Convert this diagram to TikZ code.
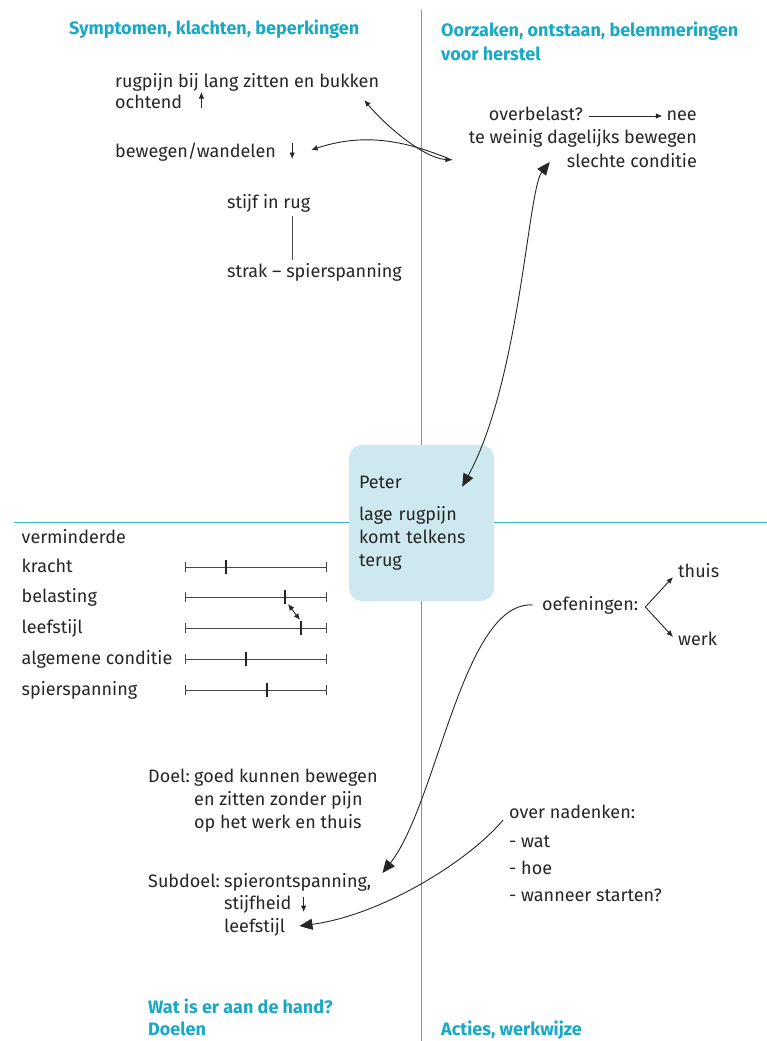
\documentclass[tikz,border=0pt]{standalone}
\usepackage{fontspec}
\setmainfont{Fira Sans}
\usetikzlibrary{arrows.meta}
\definecolor{kop}{HTML}{17A9C5}
\definecolor{lijn}{HTML}{3AAFC8}
\definecolor{vak}{HTML}{CDE9EF}
\definecolor{inkt}{HTML}{262626}
\begin{document}
\begin{tikzpicture}[x=1pt,y=-1pt,
    txt/.style={anchor=base west,inner sep=0pt,text=inkt,font=\fontsize{18}{23}\selectfont},
    txtr/.style={txt,anchor=base east},
    kopje/.style={txt,text=kop,font=\fontsize{18}{23}\selectfont\bfseries},
    kruis/.style={lijn,line width=1.1pt},
    vakje/.style={fill=vak,rounded corners=13pt,minimum width=145pt,minimum height=156pt,
        text width=125pt,inner xsep=10pt,align=left,text=inkt,font=\fontsize{18}{23}\selectfont},
    pijl/.style={inkt,line width=0.9pt,-{Latex[length=6.5pt,width=5.5pt]}},
    pijl2/.style={inkt,line width=0.9pt,{Latex[length=6.5pt,width=5.5pt]}-{Latex[length=6.5pt,width=5.5pt]}},
    groot/.style={inkt,line width=0.9pt,-{Triangle[length=13pt,width=11pt]}},
    groot2/.style={inkt,line width=0.9pt,{Triangle[length=13pt,width=11pt]}-{Triangle[length=13pt,width=11pt]}},
    schaal/.style={inkt!85,line width=0.9pt},
    merk/.style={inkt,line width=2pt}]
    \fill[white] (0,0) rectangle (767,1041);
    \useasboundingbox (0,0) rectangle (767,1041);
    % kwadranten
    \draw[kruis] (421.5,10) -- (421.5,1041);
    \draw[kruis] (14,522.5) -- (767,522.5);
    \node[vakje] (peter) at (421.5,523) {Peter\\[9pt]lage rugpijn\\komt telkens\\terug};
    % kopjes
    \node[kopje] (hsym) at (69,35) {Symptomen, klachten, beperkingen};
    \node[kopje] (hoorz1) at (441,37) {Oorzaken, ontstaan, belemmeringen};
    \node[kopje] (hoorz2) at (441,60) {voor herstel};
    \node[kopje] (hwat1) at (148,1013) {Wat is er aan de hand?};
    \node[kopje] (hwat2) at (148,1035) {Doelen};
    \node[kopje] (hact) at (441,1035) {Acties, werkwijze};
    % symptomen
    \node[txt] (rugpijn) at (115,87) {rugpijn bij lang zitten en bukken};
    \node[txt] (ochtend) at (115,108) {ochtend};
    \node[txt] (bewegen) at (115,157) {bewegen/wandelen};
    \node[txt] (stijf) at (227,208) {stijf in rug};
    \node[txt] (strak) at (227,277) {strak -- spierspanning};
    \draw[pijl] ([shift={(19pt,0pt)}]ochtend.base east) -- ++(0,-16);
    \draw[pijl] ([shift={(16pt,14pt)}]bewegen.base east) -- ++(0,16);
    \coordinate (sx) at (292,0);
    \draw[schaal] ([yshift=-4pt]stijf.south -| sx) -- ([yshift=3pt]strak.north -| sx);
    % oorzaken
    \node[txtr] (nee) at (697,120) {nee};
    \node[txtr] (overb) at (583,120) {overbelast?};
    \node[txtr] (weinig) at (697,143) {te weinig dagelijks bewegen};
    \node[txtr] (slecht) at (697,167) {slechte conditie};
    \draw[pijl] ([shift={(6pt,4pt)}]overb.base east) -- ([shift={(-4pt,4pt)}]nee.base west);
    \coordinate (oorz) at (452,160);
    \draw[pijl2] (oorz) .. controls +(-30,-2) and +(18,22) .. ([shift={(-15pt,-13pt)}]rugpijn.base east);
    \draw[pijl] (oorz) .. controls +(-37,-15) and +(60,-20) .. ([shift={(35pt,7pt)}]bewegen.base east);
    \draw[groot2] ([shift={(-17pt,5pt)}]slecht.base west) .. controls +(-22,28) and +(58,-107) .. ([shift={(-32pt,-42pt)}]peter.north east);
    % schalen
    \node[txt] (vermind) at (21.5,543) {verminderde};
    \foreach \naam/\yy/\mk in {kracht/567/226,belasting/597/285,leefstijl/628/301,algemene conditie/659/246,spierspanning/690/267}{
        \node[txt] (lab\yy) at (21.5,\yy+5) {\naam};
        \draw[schaal] (185,\yy) -- (326,\yy);
        \draw[schaal] (185,\yy-5) -- (185,\yy+5);
        \draw[schaal] (326,\yy-5) -- (326,\yy+5);
        \draw[merk] (\mk,\yy-7) -- (\mk,\yy+7);
        \coordinate (mk\yy) at (\mk,\yy);
    }
    \draw[pijl2] ([shift={(3pt,-7pt)}]mk597) -- ([shift={(-1pt,8pt)}]mk628);
    % doelen
    \node[txt] (doel) at (148,782) {Doel:};
    \node[txt] (doel1) at (194,782) {goed kunnen bewegen};
    \node[txt] (doel2) at (194,805) {en zitten zonder pijn};
    \node[txt] (doel3) at (194,828) {op het werk en thuis};
    \node[txt] (subdoel) at (148,887) {Subdoel:};
    \node[txt] (spier) at (224,887) {spierontspanning,};
    \node[txt] (stijfh) at (224,909) {stijfheid};
    \node[txt] (leefst) at (224,932) {leefstijl};
    \draw[pijl] ([shift={(12pt,12pt)}]stijfh.base east) -- ++(0,15);
    % acties
    \node[txt] (oef) at (542,610) {oefeningen:};
    \node[txt] (thuis) at (678,577) {thuis};
    \node[txt] (werk) at (678,645) {werk};
    \draw[pijl] ([shift={(7pt,3pt)}]oef.base east) -- ([shift={(-5pt,0pt)}]thuis.base west);
    \draw[pijl] ([shift={(7pt,3pt)}]oef.base east) -- ([shift={(-5pt,8pt)}]werk.base west);
    \node[txt] (nadenk) at (509,818) {over nadenken:};
    \node[txt] (wat) at (509,847) {- wat};
    \node[txt] (hoe) at (509,874) {- hoe};
    \node[txt] (wanneer) at (509,901) {- wanneer starten?};
    \draw[groot] ([shift={(-9pt,5pt)}]oef.base west) .. controls +(-70,-5) and +(55,-70) .. ([shift={(11pt,14pt)}]spier.base east);
    \draw[groot] ([shift={(-6pt,-2pt)}]nadenk.base west) .. controls +(-33,40) and +(83,-11) .. ([shift={(14pt,6pt)}]leefst.base east);
\end{tikzpicture}
\end{document}
